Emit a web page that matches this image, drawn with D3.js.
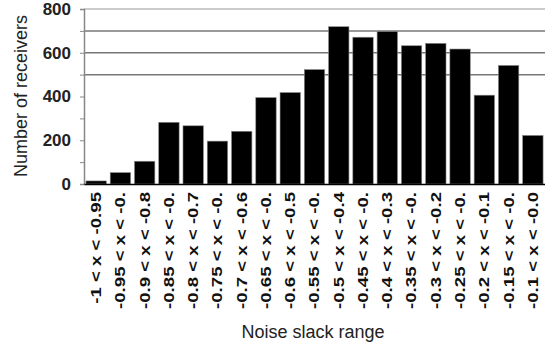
<!DOCTYPE html>
<html><head><meta charset="utf-8">
<script src="https://cdn.jsdelivr.net/npm/d3@7"></script>
<style>body{margin:0;background:#fff}</style>
</head><body>
<script>
const categories = ["-1 < x < -0.95","-0.95 < x < -0.","-0.9 < x < -0.8","-0.85 < x < -0.","-0.8 < x < -0.7","-0.75 < x < -0.","-0.7 < x < -0.6","-0.65 < x < -0.","-0.6 < x < -0.5","-0.55 < x < -0.","-0.5 < x < -0.4","-0.45 < x < -0.","-0.4 < x < -0.3","-0.35 < x < -0.","-0.3 < x < -0.2","-0.25 < x < -0.","-0.2 < x < -0.1","-0.15 < x < -0.","-0.1 < x < -0.0"];
const receivers = [14,52,104,282,266,196,241,395,418,523,719,671,697,632,643,617,406,542,222];
const yTicks = [0,200,400,600,800];
const gridValues = [500,600,700,800];

const W=545,H=349;
const m={l:84,r:0,t:9,b:165};
const FONT="Liberation Sans, Arial, sans-serif";
const svg=d3.select("body").append("svg").attr("width",W).attr("height",H);
const x=d3.scaleBand().domain(categories).range([m.l,W-m.r]).paddingInner(0.16).paddingOuter(0.08);
const y=d3.scaleLinear().domain([0,800]).range([H-m.b,m.t]);

// gridlines
svg.append("g").selectAll("line").data(gridValues).join("line")
  .attr("x1",m.l).attr("x2",W-m.r).attr("y1",d=>y(d)).attr("y2",d=>y(d))
  .attr("stroke",d=>d===800?"#bbb":"#777").attr("stroke-width",1.5);

// bars
svg.append("g").selectAll("rect").data(receivers).join("rect")
  .attr("x",(d,i)=>x(categories[i])).attr("width",x.bandwidth())
  .attr("y",d=>y(d)).attr("height",d=>y(0)-y(d))
  .attr("fill","#000").attr("stroke","#888").attr("stroke-width",0.6);

// y axis
const ya=svg.append("g").attr("transform",`translate(${m.l},0)`)
  .call(d3.axisLeft(y).tickValues(d3.range(0,801,100)).tickSize(4).tickFormat(d=>yTicks.includes(d)?d:""));
ya.select(".domain").attr("stroke","#888").attr("stroke-width",1.5);
ya.selectAll(".tick line").attr("stroke","#888");
ya.selectAll("text").attr("font-family",FONT).attr("font-size",17).attr("font-weight","bold").attr("fill","#222").attr("x",-13);

// x axis
const xa=svg.append("g").attr("transform",`translate(0,${y(0)})`)
  .call(d3.axisBottom(x).tickSize(0).tickFormat(""));
xa.select(".domain").attr("stroke","#000").attr("stroke-width",1.5);
svg.append("g").selectAll("g").data(categories).join("g")
  .attr("transform",d=>`translate(${x(d)+x.bandwidth()/2},${y(0)+8}) rotate(-90) scale(1.33,1)`)
  .append("text").attr("text-anchor","end").attr("dy","0.35em")
  .attr("font-family",FONT).attr("font-size",14).attr("font-weight","bold").attr("fill","#111").text(d=>d);

// titles
svg.append("text").attr("transform","translate(27,96) rotate(-90)").attr("text-anchor","middle")
  .attr("font-family",FONT).attr("font-size",18).attr("fill","#222").text("Number of receivers");
svg.append("text").attr("x",313).attr("y",338).attr("text-anchor","middle")
  .attr("font-family",FONT).attr("font-size",18).attr("fill","#222").text("Noise slack range");
</script>
</body></html>
